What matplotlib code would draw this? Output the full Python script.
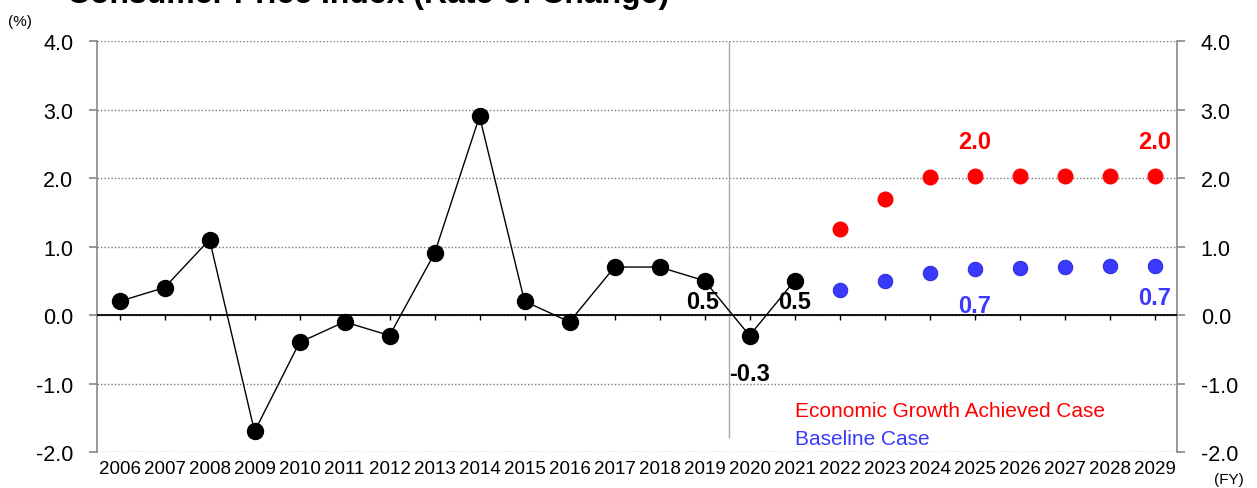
import matplotlib
matplotlib.use('Agg')
import matplotlib.pyplot as plt
import numpy as np

plt.rcParams['font.family'] = ['Liberation Sans', 'DejaVu Sans']

# Consumer Price Index, rate of change (%)
years = [str(y) for y in range(2006, 2030)]
actual_years = years[:16]
actual = [0.2, 0.4, 1.1, -1.7, -0.4, -0.1, -0.3, 0.9, 2.9, 0.2, -0.1, 0.7, 0.7, 0.5, -0.3, 0.5]
proj_years = years[16:]
growth_case = [1.25, 1.7, 2.01, 2.03, 2.03, 2.03, 2.03, 2.03]
baseline_case = [0.36, 0.5, 0.62, 0.67, 0.69, 0.70, 0.71, 0.71]

RED = '#ff0000'
BLUE = '#3a3aff'

fig = plt.figure(figsize=(12.57, 4.89), dpi=100)
ax = fig.add_axes([0.0772, 0.0736, 0.8592, 0.8405])

x_all = np.arange(len(years))
x_act = x_all[:len(actual)]
x_proj = x_all[len(actual):]

ax.plot(x_act, actual, color='black', lw=1, marker='o', markersize=11.5, zorder=4)
ax.plot(x_proj, growth_case, ls='none', marker='o', markersize=10.5, color=RED, zorder=4)
ax.plot(x_proj, baseline_case, ls='none', marker='o', markersize=10.5,
        color=BLUE, markeredgecolor='#2020d0', markeredgewidth=0.6, zorder=4)

ax.set_xlim(-0.5, len(years) - 0.5)
ax.set_ylim(-2, 4)
ax.set_yticks(np.arange(-2, 5, 1))
ax.set_yticklabels([f'{v:.1f}' for v in np.arange(-2, 5, 1)])
ax.set_xticks(x_all)
ax.set_xticklabels(years)

ax.grid(axis='y', color='#777777', ls=(0, (1, 1.5)), lw=1)
ax.axhline(0, color='black', lw=1.3, zorder=3)
ax.vlines(x_all, -0.07, 0, color='black', lw=1, zorder=3)
ax.vlines(13.55, -1.8, 4, color='#aaaaaa', lw=1, zorder=2)

for s in ['top', 'bottom']:
    ax.spines[s].set_visible(False)
for s in ['left', 'right']:
    ax.spines[s].set_color('#888888')
    ax.spines[s].set_linewidth(1.2)

ax.tick_params(axis='x', length=0, labelsize=13.5, pad=6)
ax.tick_params(axis='y', labelsize=15.5, length=6, color='#888888', width=1.2,
               right=True, labelright=True, pad=11)

# value labels
lab = dict(fontsize=17, fontweight='bold', ha='center')
ax.text(x_act[13] - 0.05, actual[13] - 0.31, '0.5', va='center', **lab)
ax.text(x_act[15], actual[15] - 0.31, '0.5', va='center', **lab)
ax.text(x_act[14], actual[14] - 0.55, '-0.3', va='center', **lab)
ax.text(x_proj[3], growth_case[3] + 0.5, '2.0', va='center', color=RED, **lab)
ax.text(x_proj[7], growth_case[7] + 0.5, '2.0', va='center', color=RED, **lab)
ax.text(x_proj[3], baseline_case[3] - 0.53, '0.7', va='center', color=BLUE, **lab)
ax.text(x_proj[7], baseline_case[7] - 0.45, '0.7', va='center', color=BLUE, **lab)

ax.text(15.0, -1.39, 'Economic Growth Achieved Case', color=RED, fontsize=15, va='center')
ax.text(15.0, -1.8, 'Baseline Case', color=BLUE, fontsize=15, va='center')

fig.text(0.053, 0.994, 'Consumer Price Index (Rate of Change)', fontsize=23,
         fontweight='bold', va='baseline')
fig.text(0.006, 0.955, '(%)', fontsize=11, va='center')
fig.text(0.966, 0.018, '(FY)', fontsize=11, va='center')

fig.savefig('out.png', dpi=100)
